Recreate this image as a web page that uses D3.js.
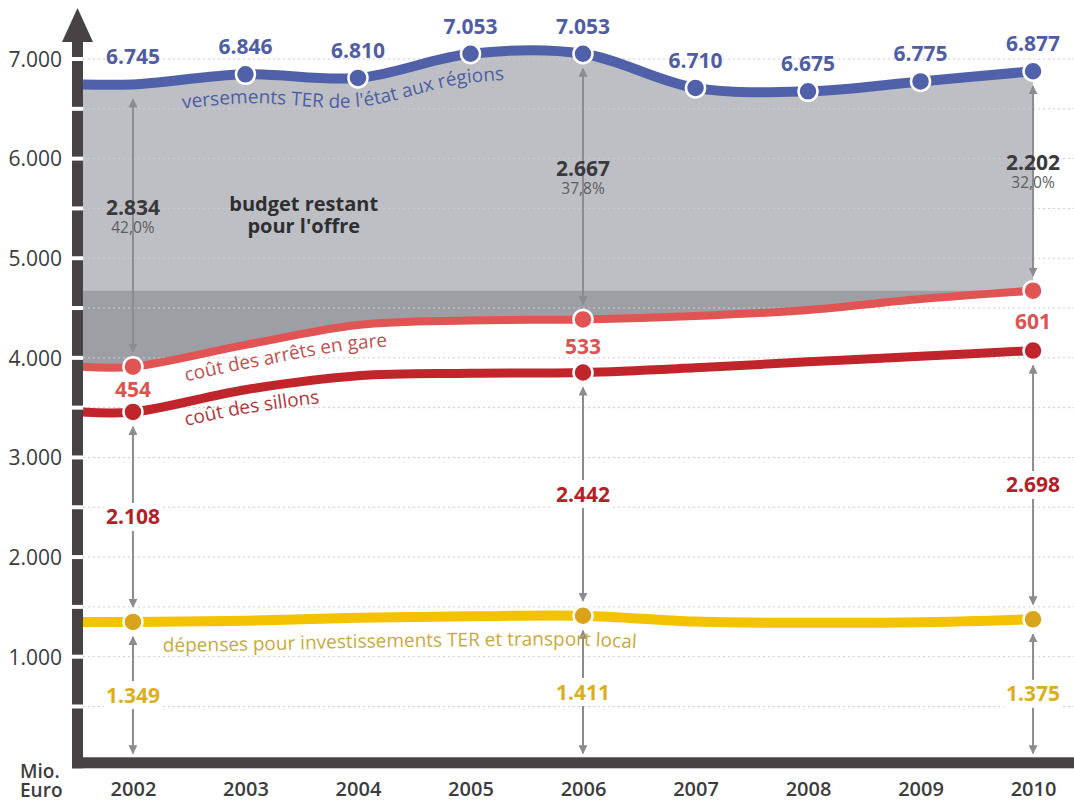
<!DOCTYPE html>
<html>
<head>
<meta charset="utf-8">
<script src="https://cdn.jsdelivr.net/npm/d3@7"></script>
<style>
  html, body { margin: 0; padding: 0; background: #ffffff; }
  svg { display: block; font-family: "Open Sans", "DejaVu Sans", sans-serif; }
</style>
</head>
<body>
<svg id="chart" width="1074" height="803"></svg>
<script>
// ---- data (Mio. Euro) ----
const years = [2002, 2003, 2004, 2005, 2006, 2007, 2008, 2009, 2010];
// state payments to the regions for regional rail (TER)
const versements = [6745, 6846, 6810, 7053, 7053, 6710, 6675, 6775, 6877];
// investment and local transport spending
const investissements = [1349, 1361, 1390, 1405, 1411, 1352, 1340, 1345, 1375];
// track access charges
const sillons = [2108, 2319, 2430, 2440, 2442, 2548, 2620, 2670, 2698];
// station stop charges
const arrets = [454, 450, 510, 530, 533, 520, 520, 575, 601];
// years carrying the detailed breakdown
const markedYears = [2002, 2006, 2010];
// remaining budget for the offer in the marked years
const budgetRestant = [2834, 2667, 2202];
const yTickValues = [1000, 2000, 3000, 4000, 5000, 6000, 7000];
const gridValues = [500, 1000, 1500, 2000, 2500, 3000, 3500, 4000, 4500, 5000, 5500, 6000, 6500, 7000];

// ---- formats ----
const fr = d3.formatLocale({ decimal: ",", thousands: ".", grouping: [3], currency: ["", " €"] });
const fmtNum = fr.format(",.0f");
const fmtPct = fr.format(".1%");

// ---- colours ----
const C = {
  blue: "#5161a9", blueText: "#4f5ea3",
  areaLight: "#bdbfc4", areaDark: "#9d9fa4",
  arr: "#e05454", arrText: "#c0504f", arrLabel: "#dc5350",
  sil: "#c1252c", silText: "#b3353a", silLabel: "#b52027",
  inv: "#f3c200", invDot: "#d9a31c", invText: "#c9aa3a", invLabel: "#dcae1e",
  arrow: "#8b8b90", axis: "#474243", tick: "#3c3c3c", grid: "#cdcdd0"
};

const svg = d3.select("#chart");
const W = 1074;

// ---- scales ----
const x = d3.scalePoint().domain(years).range([83, 1083]).padding(0.444);
const y = d3.scaleLinear().domain([0, 7000]).range([756.3, 59]);
const x0 = x.range()[0];

// stacked levels
const silCum = years.map((_, i) => investissements[i] + sillons[i]);
const arrCum = years.map((_, i) => silCum[i] + arrets[i]);
const level = arrCum[arrCum.length - 1];

// points with a flat lead-in from the vertical axis
function pts(vals, dy = 0) {
  return [[x0, y(vals[0]) + dy]].concat(years.map((yr, i) => [x(yr), y(vals[i]) + dy]));
}
const curve = d3.curveCatmullRom.alpha(0.5);
const line = d3.line().curve(curve);

// ---- areas ----
const rows = [{ x: x0, i: 0 }].concat(years.map((yr, i) => ({ x: x(yr), i })));
svg.append("path")
  .attr("d", d3.area().curve(curve).x(d => d.x)
    .y0(d => y(arrCum[d.i])).y1(d => y(versements[d.i]))(rows))
  .attr("fill", C.areaLight);
svg.append("path")
  .attr("d", d3.area().curve(curve).x(d => d.x)
    .y0(d => y(arrCum[d.i])).y1(() => y(level))(rows))
  .attr("fill", C.areaDark);

// ---- grid ----
svg.append("g").selectAll("line").data(gridValues).join("line")
  .attr("x1", 83).attr("x2", W)
  .attr("y1", d => y(d)).attr("y2", d => y(d))
  .attr("stroke", C.grid).attr("stroke-width", 1).attr("stroke-dasharray", "2,3");

// ---- series lines ----
const series = [
  { vals: investissements, color: C.inv, width: 10 },
  { vals: silCum, color: C.sil, width: 9 },
  { vals: arrCum, color: C.arr, width: 8 },
  { vals: versements, color: C.blue, width: 10 }
];
series.forEach(s => {
  svg.append("path").attr("d", line(pts(s.vals)))
    .attr("fill", "none").attr("stroke", s.color)
    .attr("stroke-width", s.width).attr("stroke-linecap", "butt");
});

// ---- arrows ----
const defs = svg.append("defs");
defs.append("marker").attr("id", "head")
  .attr("viewBox", "0 0 10 10").attr("refX", 9).attr("refY", 5)
  .attr("markerWidth", 4.5).attr("markerHeight", 4.5).attr("markerUnits", "strokeWidth")
  .attr("orient", "auto-start-reverse")
  .append("path").attr("d", "M0,0 L10,5 L0,10 z").attr("fill", C.arrow);

const gap = 15;
const arrowG = svg.append("g");
const labelG = svg.append("g");
markedYears.forEach((yr, k) => {
  const i = years.indexOf(yr);
  const cx = x(yr);
  const segs = [
    [y(versements[i]) + gap, y(arrCum[i]) - gap],
    [y(silCum[i]) + gap, y(investissements[i]) - gap],
    [y(investissements[i]) + gap, y(0) - 3]
  ];
  segs.forEach(([a, b]) => {
    arrowG.append("line").attr("x1", cx).attr("x2", cx).attr("y1", a).attr("y2", b)
      .attr("stroke", C.arrow).attr("stroke-width", 2)
      .attr("marker-start", "url(#head)").attr("marker-end", "url(#head)");
  });

  // remaining budget + share, one text block
  const midTop = (segs[0][0] + segs[0][1]) / 2;
  const bt = labelG.append("text").attr("text-anchor", "middle");
  bt.append("tspan").attr("x", cx).attr("y", midTop - 11)
    .attr("font-size", 21).attr("font-weight", "bold").attr("fill", "#3a3a3c")
    .text(fmtNum(budgetRestant[k]));
  bt.append("tspan").attr("x", cx).attr("y", midTop + 7)
    .attr("font-size", 15.5).attr("fill", "#5d5d60")
    .text(fmtPct(budgetRestant[k] / versements[i]));

  // station stop charges between the two red lines
  const midArr = (y(arrCum[i]) + y(silCum[i])) / 2;
  labelG.append("text").attr("x", cx).attr("y", midArr + 8)
    .attr("text-anchor", "middle").attr("font-size", 21).attr("font-weight", "bold")
    .attr("fill", C.arrLabel).text(fmtNum(arrets[i]));

  // labels sitting on the arrows with a white backing
  [[segs[1], sillons[i], C.silLabel], [segs[2], investissements[i], C.invLabel]].forEach(([s, v, col]) => {
    const m = (s[0] + s[1]) / 2;
    const t = labelG.append("text").attr("x", cx).attr("y", m + 7.5)
      .attr("text-anchor", "middle").attr("font-size", 21).attr("font-weight", "bold")
      .attr("fill", col).text(fmtNum(v));
    const bb = t.node().getBBox();
    labelG.insert("rect", () => t.node())
      .attr("x", bb.x - 2).attr("y", m - 14).attr("width", bb.width + 4).attr("height", 28)
      .attr("fill", "#ffffff");
  });
});

// ---- dots ----
const dotG = svg.append("g");
function dots(list, vals, fill) {
  dotG.selectAll(null).data(list).join("circle")
    .attr("cx", d => x(d)).attr("cy", d => y(vals[years.indexOf(d)]))
    .attr("r", 9.5).attr("fill", fill).attr("stroke", "#ffffff").attr("stroke-width", 2.5);
}
dots(years.slice(1), versements, C.blue);
dots(markedYears, arrCum, C.arr);
dots(markedYears, silCum, C.sil);
dots(markedYears, investissements, C.invDot);

// ---- value labels on the payments line ----
svg.append("g").selectAll("text").data(years).join("text")
  .attr("x", d => x(d)).attr("y", (d, i) => y(versements[i]) - 20)
  .attr("text-anchor", "middle").attr("font-size", 21).attr("font-weight", "bold")
  .attr("fill", C.blueText).text((d, i) => fmtNum(versements[i]));

// ---- series names following their lines ----
const names = [
  { id: "tp-vers", vals: versements, dy: 29, off: 100, text: "versements TER de l'état aux régions", color: C.blueText },
  { id: "tp-arr", vals: arrCum, dy: 24, off: 104, text: "coût des arrêts en gare", color: C.arrText },
  { id: "tp-sil", vals: silCum, dy: 24, off: 104, text: "coût des sillons", color: C.silText },
  { id: "tp-inv", vals: investissements, dy: 30, off: 80, text: "dépenses pour investissements TER et transport local", color: C.invText }
];
names.forEach(n => {
  defs.append("path").attr("id", n.id).attr("d", line(pts(n.vals, n.dy)));
  svg.append("text").attr("font-size", 19).attr("fill", n.color)
    .append("textPath").attr("href", "#" + n.id).attr("startOffset", n.off).text(n.text);
});

// ---- area annotation ----
const bx = (x(2003) + x(2004)) / 2 + 2;
const budgetText = svg.append("text").attr("text-anchor", "middle")
  .attr("font-size", 20).attr("font-weight", "bold").attr("fill", "#2f2f31");
budgetText.append("tspan").attr("x", bx).attr("y", y(5470)).text("budget restant");
budgetText.append("tspan").attr("x", bx).attr("y", y(5255)).text("pour l'offre");

// ---- axes ----
// vertical bar with white notches at every grid step, topped by an arrowhead
svg.append("rect").attr("x", 72).attr("y", 40).attr("width", 11).attr("height", y(0) + 12 - 40)
  .attr("fill", C.axis);
svg.append("g").selectAll("rect").data(gridValues).join("rect")
  .attr("x", 72).attr("width", 11).attr("y", d => y(d) - 2).attr("height", 4).attr("fill", "#ffffff");
svg.append("path").attr("d", "M77.5,8 L93,42 L62,42 Z").attr("fill", C.axis);
// horizontal bar
svg.append("rect").attr("x", 72).attr("y", y(0) + 1).attr("width", W - 72).attr("height", 11)
  .attr("fill", C.axis);

const yAxis = svg.append("g").attr("transform", "translate(72,0)")
  .call(d3.axisLeft(y).tickValues(yTickValues).tickFormat(fmtNum).tickSize(0).tickPadding(10));
yAxis.select(".domain").remove();
yAxis.selectAll("text").attr("font-size", 21).attr("fill", C.tick)
  .attr("font-family", "\"Open Sans\", sans-serif").attr("dy", "0.35em");

const xAxis = svg.append("g").attr("transform", `translate(0,${y(0)})`)
  .call(d3.axisBottom(x).tickSize(0).tickPadding(26).tickFormat(d => String(d)));
xAxis.select(".domain").remove();
xAxis.selectAll("text").attr("font-size", 20).attr("font-weight", 600).attr("fill", C.tick)
  .attr("font-family", "\"Open Sans\", sans-serif");

const unit = svg.append("text").attr("font-size", 19).attr("font-weight", 600).attr("fill", C.tick);
unit.append("tspan").attr("x", 20).attr("y", 778).text("Mio.");
unit.append("tspan").attr("x", 20).attr("y", 797).text("Euro");
</script>
</body>
</html>
